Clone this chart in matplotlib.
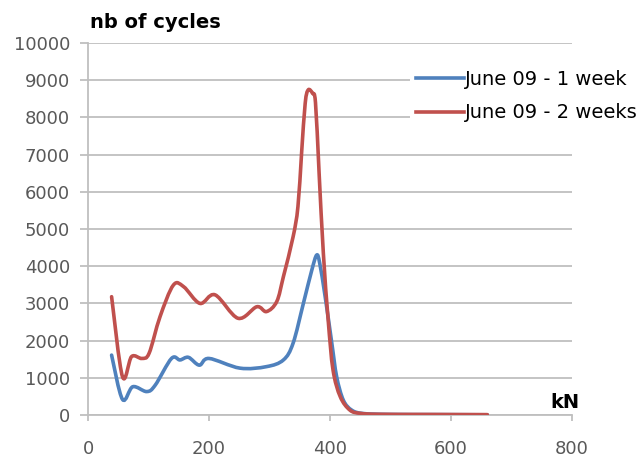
import matplotlib.pyplot as plt
from matplotlib.path import Path
from matplotlib.patches import PathPatch
from matplotlib.lines import Line2D

# data (kN, number of cycles)
kn_1w = [39, 57, 74, 97, 111, 138, 152, 166, 184, 200, 251, 295, 323, 339, 356,
         370, 378, 383, 392, 403, 411, 422, 436, 455, 500, 580, 660]
cyc_1w = [1610, 420, 760, 630, 800, 1520, 1480, 1550, 1340, 1520, 1260, 1300, 1480,
          1930, 3000, 3900, 4300, 4080, 3180, 1930, 1030, 400, 130, 40, 15, 10, 5]

kn_2w = [39, 57, 72, 89, 101, 119, 141, 158, 185, 210, 248, 279, 295, 312, 323,
         339, 347, 353, 359, 364, 371, 376, 382, 389, 397, 405, 417, 433, 450,
         480, 560, 660]
cyc_2w = [3180, 1030, 1570, 1520, 1660, 2640, 3490, 3450, 3000, 3230, 2600, 2910,
          2780, 3050, 3720, 4790, 5600, 7030, 8380, 8740, 8650, 8400, 6500, 4350,
          2550, 1210, 490, 130, 45, 20, 15, 10]

labels = ["June 09 - 1 week", "June 09 - 2 weeks"]
colors = ["#4F81BD", "#C0504D"]


def smooth_path(xs, ys):
    # Excel-like smoothed line: cubic bezier segments through the data points
    verts = [(xs[0], ys[0])]
    codes = [Path.MOVETO]
    n = len(xs)
    for i in range(n - 1):
        x0, y0 = xs[max(i - 1, 0)], ys[max(i - 1, 0)]
        x1, y1 = xs[i], ys[i]
        x2, y2 = xs[i + 1], ys[i + 1]
        x3, y3 = xs[min(i + 2, n - 1)], ys[min(i + 2, n - 1)]
        c1 = (x1 + (x2 - x0) / 6, y1 + (y2 - y0) / 6)
        c2 = (x2 - (x3 - x1) / 6, y2 - (y3 - y1) / 6)
        verts += [c1, c2, (x2, y2)]
        codes += [Path.CURVE4] * 3
    return Path(verts, codes)


fig = plt.figure(figsize=(6.4, 4.58), dpi=100)
ax = fig.add_axes([88 / 640, 1 - 415 / 458, 484 / 640, 372 / 458])

for xs, ys, c in [(kn_1w, cyc_1w, colors[0]), (kn_2w, cyc_2w, colors[1])]:
    ax.add_patch(PathPatch(smooth_path(xs, ys), fill=False, edgecolor=c, lw=2.6,
                           joinstyle="round", capstyle="round", zorder=3))

ax.set_xlim(0, 800)
ax.set_ylim(0, 10000)
ax.set_xticks(range(0, 801, 200))
ax.set_yticks(range(0, 10001, 1000))
ax.yaxis.grid(True, color="#BFBFBF", lw=1.3)
ax.set_axisbelow(True)

for s in ["top", "right"]:
    ax.spines[s].set_visible(False)
for s in ["left", "bottom"]:
    ax.spines[s].set_color("#BFBFBF")
    ax.spines[s].set_linewidth(1.3)

ax.tick_params(axis="y", length=6, width=1.3, color="#BFBFBF", pad=7,
               labelsize=13, labelcolor="#595959")
ax.tick_params(axis="x", length=4, width=1.3, color="#BFBFBF", pad=14,
               labelsize=13, labelcolor="#595959")

fig.text(90 / 640, 1 - 22 / 458, "nb of cycles", fontsize=14, fontweight="bold",
         va="center", ha="left")
fig.text(580 / 640, 1 - 402 / 458, "kN", fontsize=14, fontweight="bold",
         va="center", ha="right")

handles = [Line2D([], [], color=c, lw=2.6) for c in colors]
leg = ax.legend(handles, labels, loc="upper left",
                bbox_to_anchor=(410 / 640, 1 - 64 / 458),
                bbox_transform=fig.transFigure, fontsize=14, frameon=True,
                handlelength=2.5, handletextpad=0.0, labelspacing=0.75,
                borderaxespad=0, borderpad=0.3, fancybox=False)
leg.get_frame().set_facecolor("white")
leg.get_frame().set_edgecolor("none")
leg.get_frame().set_alpha(1)

fig.savefig("out.png", dpi=100)
